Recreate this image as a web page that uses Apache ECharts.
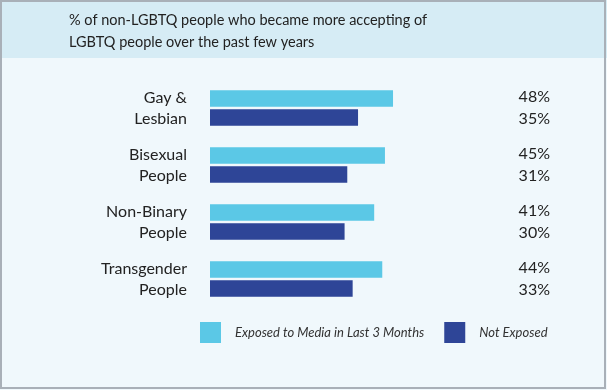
<!DOCTYPE html>
<html><head><meta charset="utf-8">
<script src="https://cdn.jsdelivr.net/npm/echarts@6/dist/echarts.min.js"></script>
<style>html,body{margin:0;padding:0;background:#f0f8fc}#c{width:607px;height:390px}</style>
</head><body><div id="c"></div>
<script>
const titleText = "% of non-LGBTQ people who became more accepting of\nLGBTQ people over the past few years";
const categories = ["Gay &\nLesbian", "Bisexual\nPeople", "Non-Binary\nPeople", "Transgender\nPeople"];
const seriesNames = ["Exposed to Media in Last 3 Months", "Not Exposed"];
const exposed = [48, 45, 41, 44];
const notExposed = [35, 31, 30, 33];

const FONT = "Lato";
const AXIS_MIN = -20, AXIS_MAX = 100;
const BAR_H = 16.5, BAR_OFF = 9.6;

function makeRender(sign) {
  return function (params, api) {
    const val = api.value(0), cat = api.value(1);
    const s = api.coord([AXIS_MIN, cat]);
    const e = api.coord([val, cat]);
    return {
      type: 'rect',
      shape: {x: s[0], y: e[1] + sign * BAR_OFF - BAR_H / 2, width: e[0] - s[0], height: BAR_H},
      style: api.style()
    };
  };
}

const chart = echarts.init(document.getElementById('c'), null, {renderer: 'canvas'});
chart.setOption({
  backgroundColor: '#f0f8fc',
  animation: false,
  graphic: [
    {type: 'rect', left: 0, top: 0, shape: {width: 607, height: 58}, style: {fill: '#d6ecf5'}, z: -10},
    {type: 'rect', x: 1, y: 1, shape: {width: 604, height: 387}, style: {fill: 'none', stroke: '#a9b0b8', lineWidth: 2}, z: 100}
  ],
  title: {
    text: titleText, left: 69, top: 9, padding: 0,
    textStyle: {fontFamily: FONT, fontSize: 14.5, fontWeight: 'normal', color: '#222', lineHeight: 22}
  },
  legend: {
    data: seriesNames, left: 200, top: 322, padding: 0, itemWidth: 21, itemHeight: 21, itemGap: 20,
    icon: 'rect',
    textStyle: {fontFamily: FONT, fontSize: 13, fontStyle: 'italic', color: '#333', padding: [0, 0, 0, 9]}
  },
  grid: {left: 210, right: 74, top: 79.5, bottom: 82.5},
  xAxis: {type: 'value', min: AXIS_MIN, max: AXIS_MAX, show: false},
  yAxis: [
    {type: 'category', data: categories, inverse: true,
     axisLine: {show: false}, axisTick: {show: false},
     axisLabel: {fontFamily: FONT, fontSize: 16, color: '#222', lineHeight: 21, margin: 23, align: 'right', padding: [5, 0, 0, 0]}},
    {type: 'category', data: categories, inverse: true, position: 'right', offset: 9,
     axisLine: {show: false}, axisTick: {show: false},
     axisLabel: {fontFamily: FONT, fontSize: 16, color: '#222', lineHeight: 22.5, margin: 8, align: 'right', padding: [5, 0, 0, 0],
       formatter: (v, i) => exposed[i] + '%\n' + notExposed[i] + '%'}}
  ],
  series: [
    {name: seriesNames[0], type: 'custom', renderItem: makeRender(-1),
     encode: {x: 0, y: 1}, data: exposed.map((v, i) => [v, i]),
     itemStyle: {color: '#5bc8e6'}},
    {name: seriesNames[1], type: 'custom', renderItem: makeRender(1),
     encode: {x: 0, y: 1}, data: notExposed.map((v, i) => [v, i]),
     itemStyle: {color: '#2e4597'}}
  ]
});
</script></body></html>
